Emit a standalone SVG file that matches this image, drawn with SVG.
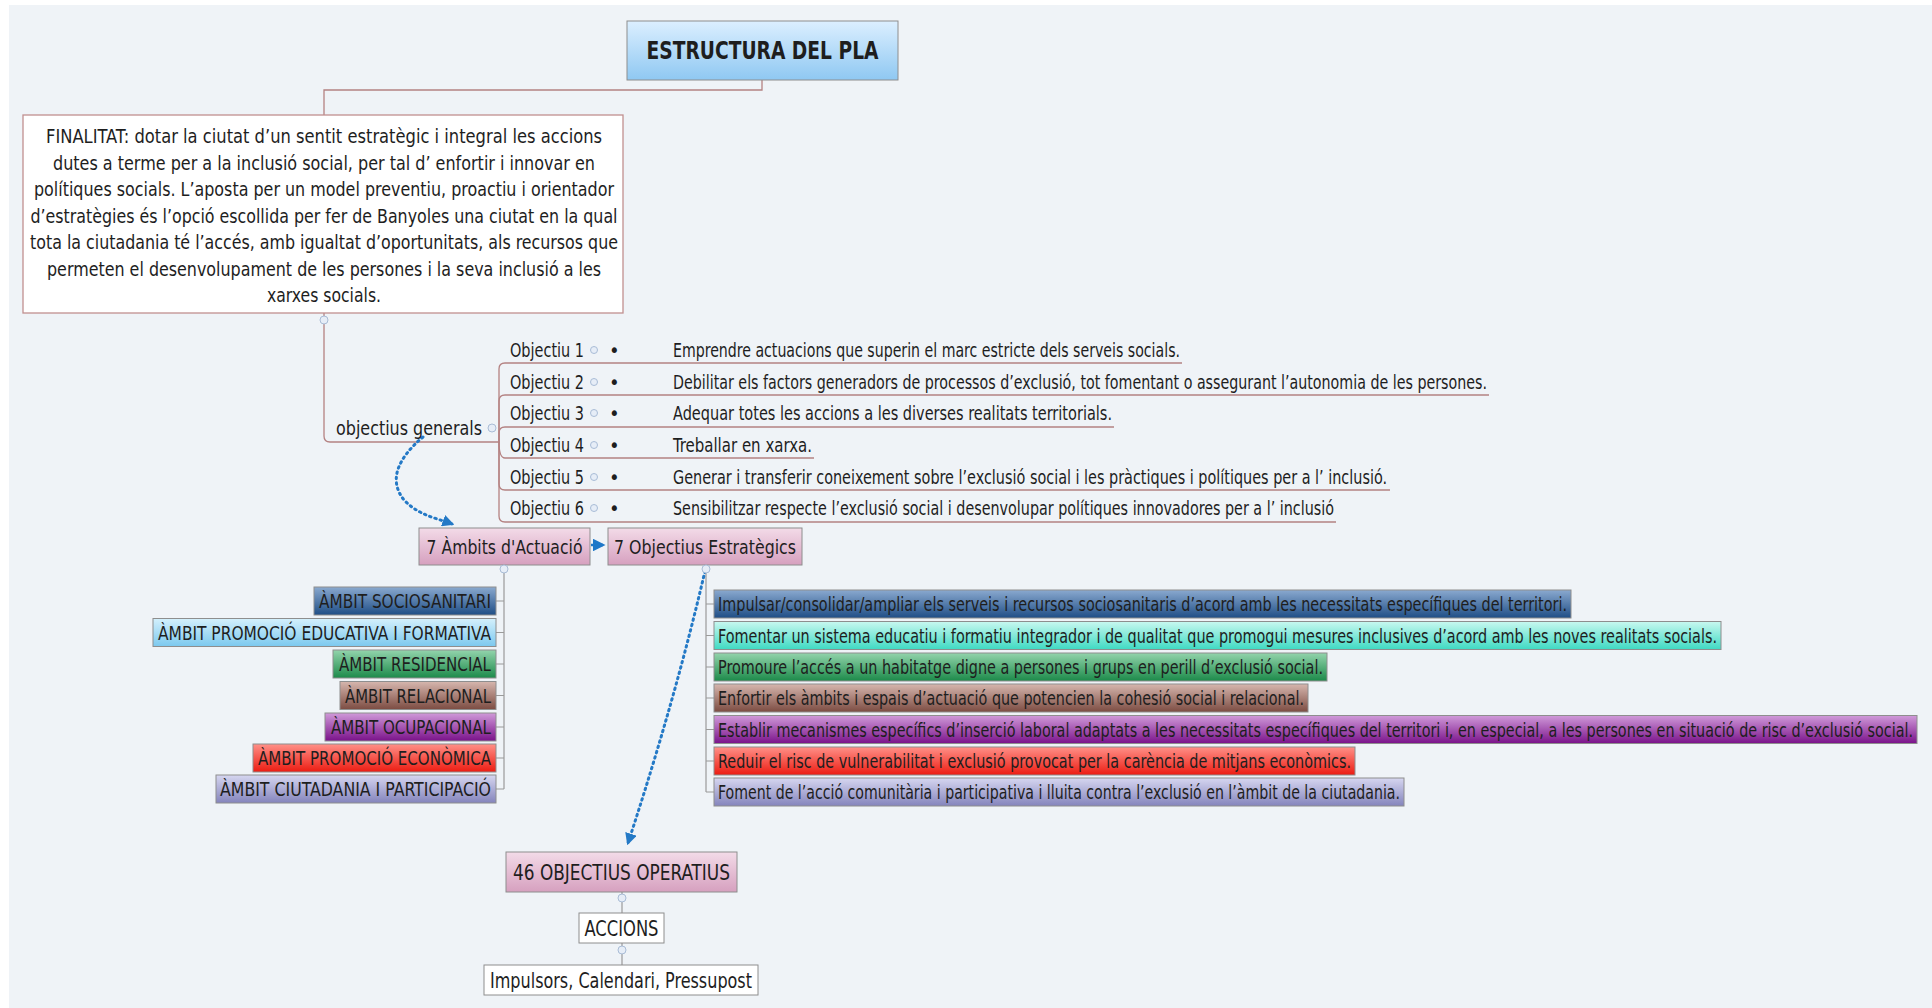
<svg xmlns="http://www.w3.org/2000/svg" width="1932" height="1008" viewBox="0 0 1932 1008">
<defs>
<style>
text{font-family:"Liberation Sans Narrow","DejaVu Sans Condensed","Liberation Sans",sans-serif;fill:#1e1e1e;}
.t18{font-size:20px;}
.t19{font-size:20px;}
.t20{font-size:21px;}
.box{stroke:#8e8e8e;stroke-width:1;}
.ln{fill:none;stroke:#b48282;stroke-width:1.3;}
.gl{fill:none;stroke:#9a9a9a;stroke-width:1.2;}
.dot{fill:none;stroke:#2479c6;stroke-width:3;stroke-dasharray:1.5 4;stroke-linecap:round;}
.knob{fill:#e6edf7;stroke:#a9bcd6;stroke-width:1;}
</style>
<linearGradient id="gTitle" x1="0" y1="0" x2="0" y2="1"><stop offset="0" stop-color="#dcefff"/><stop offset="1" stop-color="#8fc8f2"/></linearGradient>
<linearGradient id="gPink" x1="0" y1="0" x2="0" y2="1"><stop offset="0" stop-color="#f3dbe8"/><stop offset="1" stop-color="#d6a0bf"/></linearGradient>
<linearGradient id="gBlue" x1="0" y1="0" x2="0" y2="1"><stop offset="0" stop-color="#8aa9cf"/><stop offset="1" stop-color="#1f4e86"/></linearGradient>
<linearGradient id="gSky" x1="0" y1="0" x2="0" y2="1"><stop offset="0" stop-color="#d4f0fc"/><stop offset="1" stop-color="#7cc9ef"/></linearGradient>
<linearGradient id="gTurq" x1="0" y1="0" x2="0" y2="1"><stop offset="0" stop-color="#c8f8f0"/><stop offset="1" stop-color="#3fdac3"/></linearGradient>
<linearGradient id="gGreen" x1="0" y1="0" x2="0" y2="1"><stop offset="0" stop-color="#93d4ac"/><stop offset="1" stop-color="#1c8a4a"/></linearGradient>
<linearGradient id="gBrown" x1="0" y1="0" x2="0" y2="1"><stop offset="0" stop-color="#d6b6ae"/><stop offset="1" stop-color="#7c4c42"/></linearGradient>
<linearGradient id="gPurple" x1="0" y1="0" x2="0" y2="1"><stop offset="0" stop-color="#d09ad9"/><stop offset="1" stop-color="#7a128a"/></linearGradient>
<linearGradient id="gRed" x1="0" y1="0" x2="0" y2="1"><stop offset="0" stop-color="#ff9088"/><stop offset="1" stop-color="#ec1c12"/></linearGradient>
<linearGradient id="gLav" x1="0" y1="0" x2="0" y2="1"><stop offset="0" stop-color="#d6d6f0"/><stop offset="1" stop-color="#8484bc"/></linearGradient>
<marker id="arr" viewBox="0 0 10 10" refX="8" refY="5" markerWidth="4" markerHeight="4" orient="auto" markerUnits="strokeWidth"><path d="M0,0 L10,5 L0,10 z" fill="#2479c6"/></marker>
<marker id="arr2" viewBox="0 0 10 10" refX="8" refY="5" markerWidth="5" markerHeight="5" orient="auto" markerUnits="strokeWidth"><path d="M0,0 L10,5 L0,10 z" fill="#1e78c8"/></marker>
</defs>
<rect x="0" y="0" width="1932" height="1008" fill="#ffffff"/>
<rect x="9" y="5" width="1923" height="1003" fill="#eff3f7"/>

<g id="connectors">
<path class="ln" d="M762 80 V90 H324 V115"/>
<path class="ln" d="M324 313 V436 Q324 442 330 442 H497"/>
<path class="ln" d="M497 442 H499 V369 Q499 363 505 363 H1182"/>
<path class="ln" d="M499 442 V401 Q499 395 505 395 H1489"/>
<path class="ln" d="M499 442 V433 Q499 427 505 427 H1114"/>
<path class="ln" d="M499 442 Q499 458 505 458 H814"/>
<path class="ln" d="M499 442 V484 Q499 490 505 490 H1390"/>
<path class="ln" d="M499 442 V516 Q499 522 505 522 H1336"/>
<path class="dot" d="M423 437 C398 458 388 480 404 500 C418 515 436 518 452 524" marker-end="url(#arr)"/>
<path fill="none" stroke="#1e78c8" stroke-width="2.5" d="M591 545 H603" marker-end="url(#arr2)"/>
<path class="gl" d="M504 573 V789 M496 601 H504 M496 632.5 H504 M496 664 H504 M496 695.5 H504 M496 727 H504 M496 758 H504 M496 789 H504"/>
<path class="gl" d="M706 573 V792 M706 604 H714 M706 635.5 H714 M706 667 H714 M706 698 H714 M706 729.5 H714 M706 761 H714 M706 792 H714"/>
<path class="dot" d="M705 571 Q675 700 628 843" marker-end="url(#arr)"/>
<path class="gl" d="M622 892 V913 M622 943 V965"/>
</g>

<g id="title">
<rect class="box" x="627" y="21" width="271" height="59" fill="url(#gTitle)" stroke="#7a9cbf"/>
<text x="762.5" y="59" text-anchor="middle" font-size="25" font-weight="bold" fill="#333a44" textLength="232" lengthAdjust="spacingAndGlyphs">ESTRUCTURA DEL PLA</text>
</g>

<g id="finalitat">
<rect x="23" y="115" width="600" height="198" fill="#ffffff" stroke="#c09090" stroke-width="1.3"/>
<g class="t19" text-anchor="middle">
<text x="324" y="143" textLength="556" lengthAdjust="spacingAndGlyphs">FINALITAT: dotar la ciutat d’un sentit estratègic i integral les accions</text>
<text x="324" y="169.5" textLength="542" lengthAdjust="spacingAndGlyphs">dutes a terme per a la inclusió social, per tal d’ enfortir i innovar en</text>
<text x="324" y="196" textLength="580" lengthAdjust="spacingAndGlyphs">polítiques socials. L’aposta per un model preventiu, proactiu i orientador</text>
<text x="324" y="222.5" textLength="587" lengthAdjust="spacingAndGlyphs">d’estratègies és l’opció escollida per fer de Banyoles una ciutat en la qual</text>
<text x="324" y="249" textLength="588" lengthAdjust="spacingAndGlyphs">tota la ciutadania té l’accés, amb igualtat d’oportunitats, als recursos que</text>
<text x="324" y="275.5" textLength="554" lengthAdjust="spacingAndGlyphs">permeten el desenvolupament de les persones i la seva inclusió a les</text>
<text x="324" y="302" textLength="114" lengthAdjust="spacingAndGlyphs">xarxes socials.</text>
</g>
<circle class="knob" cx="324" cy="320" r="4"/>
</g>

<g id="objectius-generals">
<text class="t19" x="336" y="435" textLength="146" lengthAdjust="spacingAndGlyphs">objectius generals</text>
<circle class="knob" cx="492" cy="428" r="4"/>
</g>

<g id="objectius" class="t18">
<g id="obj1"><text x="510" y="357" textLength="74" lengthAdjust="spacingAndGlyphs">Objectiu 1</text><circle class="knob" cx="594" cy="350" r="3.5"/><text x="609" y="357">•</text><text x="673" y="357" textLength="507" lengthAdjust="spacingAndGlyphs">Emprendre actuacions que superin el marc estricte dels serveis socials.</text></g>
<g id="obj2"><text x="510" y="389" textLength="74" lengthAdjust="spacingAndGlyphs">Objectiu 2</text><circle class="knob" cx="594" cy="382" r="3.5"/><text x="609" y="389">•</text><text x="673" y="389" textLength="814" lengthAdjust="spacingAndGlyphs">Debilitar els factors generadors de processos d’exclusió, tot fomentant o assegurant l’autonomia de les persones.</text></g>
<g id="obj3"><text x="510" y="420" textLength="74" lengthAdjust="spacingAndGlyphs">Objectiu 3</text><circle class="knob" cx="594" cy="413" r="3.5"/><text x="609" y="420">•</text><text x="673" y="420" textLength="439" lengthAdjust="spacingAndGlyphs">Adequar totes les accions a les diverses realitats territorials.</text></g>
<g id="obj4"><text x="510" y="452" textLength="74" lengthAdjust="spacingAndGlyphs">Objectiu 4</text><circle class="knob" cx="594" cy="445" r="3.5"/><text x="609" y="452">•</text><text x="673" y="452" textLength="139" lengthAdjust="spacingAndGlyphs">Treballar en xarxa.</text></g>
<g id="obj5"><text x="510" y="484" textLength="74" lengthAdjust="spacingAndGlyphs">Objectiu 5</text><circle class="knob" cx="594" cy="477" r="3.5"/><text x="609" y="484">•</text><text x="673" y="484" textLength="714" lengthAdjust="spacingAndGlyphs">Generar i transferir coneixement sobre l’exclusió social i les pràctiques i polítiques per a l’ inclusió.</text></g>
<g id="obj6"><text x="510" y="515" textLength="74" lengthAdjust="spacingAndGlyphs">Objectiu 6</text><circle class="knob" cx="594" cy="508" r="3.5"/><text x="609" y="515">•</text><text x="673" y="515" textLength="661" lengthAdjust="spacingAndGlyphs">Sensibilitzar respecte l’exclusió social i desenvolupar polítiques innovadores per a l’ inclusió</text></g>
</g>

<g id="ambits-actuacio">
<rect class="box" x="419" y="528" width="171" height="37" fill="url(#gPink)"/>
<text class="t19" x="504.5" y="554" text-anchor="middle" textLength="156" lengthAdjust="spacingAndGlyphs" fill="#3a2a33">7 Àmbits d'Actuació</text>
<circle class="knob" cx="504" cy="569" r="4"/>
</g>

<g id="objectius-estrategics">
<rect class="box" x="608" y="528" width="194" height="37" fill="url(#gPink)"/>
<text class="t19" x="705" y="554" text-anchor="middle" textLength="182" lengthAdjust="spacingAndGlyphs" fill="#3a2a33">7 Objectius Estratègics</text>
<circle class="knob" cx="706" cy="569" r="4"/>
</g>

<g id="ambits" class="t18" text-anchor="end">
<g id="a1"><rect class="box" x="314" y="587" width="182" height="28" fill="url(#gBlue)"/><text x="491" y="608" textLength="172" lengthAdjust="spacingAndGlyphs" fill="#141a2a">ÀMBIT SOCIOSANITARI</text></g>
<g id="a2"><rect class="box" x="153" y="618.5" width="343" height="28" fill="url(#gSky)"/><text x="491" y="639.5" textLength="333" lengthAdjust="spacingAndGlyphs">ÀMBIT PROMOCIÓ EDUCATIVA I FORMATIVA</text></g>
<g id="a3"><rect class="box" x="333" y="650" width="163" height="28" fill="url(#gGreen)"/><text x="491" y="671" textLength="152" lengthAdjust="spacingAndGlyphs" fill="#0e1e14">ÀMBIT RESIDENCIAL</text></g>
<g id="a4"><rect class="box" x="340" y="681.5" width="156" height="28" fill="url(#gBrown)"/><text x="491" y="702.5" textLength="146" lengthAdjust="spacingAndGlyphs" fill="#1e1414">ÀMBIT RELACIONAL</text></g>
<g id="a5"><rect class="box" x="325" y="713" width="171" height="28" fill="url(#gPurple)"/><text x="491" y="734" textLength="160" lengthAdjust="spacingAndGlyphs" fill="#1e0e22">ÀMBIT OCUPACIONAL</text></g>
<g id="a6"><rect class="box" x="253" y="744" width="243" height="28" fill="url(#gRed)"/><text x="491" y="765" textLength="233" lengthAdjust="spacingAndGlyphs" fill="#2a0a0a">ÀMBIT PROMOCIÓ ECONÒMICA</text></g>
<g id="a7"><rect class="box" x="216" y="775" width="280" height="28" fill="url(#gLav)"/><text x="491" y="796" textLength="271" lengthAdjust="spacingAndGlyphs">ÀMBIT CIUTADANIA I PARTICIPACIÓ</text></g>
</g>

<g id="estrategics" class="t18">
<g id="e1"><rect class="box" x="714" y="590" width="857" height="28" fill="url(#gBlue)"/><text x="718" y="611" textLength="849" lengthAdjust="spacingAndGlyphs" fill="#141a2a">Impulsar/consolidar/ampliar els serveis i recursos sociosanitaris d’acord amb les necessitats específiques del territori.</text></g>
<g id="e2"><rect class="box" x="714" y="621.5" width="1007" height="28" fill="url(#gTurq)"/><text x="718" y="642.5" textLength="999" lengthAdjust="spacingAndGlyphs">Fomentar un sistema educatiu i formatiu integrador i de qualitat que promogui mesures inclusives d’acord amb les noves realitats socials.</text></g>
<g id="e3"><rect class="box" x="714" y="653" width="613" height="28" fill="url(#gGreen)"/><text x="718" y="674" textLength="605" lengthAdjust="spacingAndGlyphs" fill="#0e1e14">Promoure l’accés a un habitatge digne a persones i grups en perill d’exclusió social.</text></g>
<g id="e4"><rect class="box" x="714" y="684" width="594" height="28" fill="url(#gBrown)"/><text x="718" y="705" textLength="586" lengthAdjust="spacingAndGlyphs" fill="#1e1414">Enfortir els àmbits i espais d’actuació que potencien la cohesió social i relacional.</text></g>
<g id="e5"><rect class="box" x="714" y="715.5" width="1203" height="28" fill="url(#gPurple)"/><text x="718" y="736.5" textLength="1195" lengthAdjust="spacingAndGlyphs" fill="#1e0e22">Establir mecanismes específics d’inserció laboral adaptats a les necessitats específiques del territori i, en especial, a les persones en situació de risc d’exclusió social.</text></g>
<g id="e6"><rect class="box" x="714" y="747" width="641" height="28" fill="url(#gRed)"/><text x="718" y="768" textLength="633" lengthAdjust="spacingAndGlyphs" fill="#2a0a0a">Reduir el risc de vulnerabilitat i exclusió provocat per la carència de mitjans econòmics.</text></g>
<g id="e7"><rect class="box" x="714" y="778" width="690" height="28" fill="url(#gLav)"/><text x="718" y="799" textLength="682" lengthAdjust="spacingAndGlyphs">Foment de l’acció comunitària i participativa i lluita contra l’exclusió en l’àmbit de la ciutadania.</text></g>
</g>

<g id="operatius">
<rect class="box" x="506" y="852" width="231" height="40" fill="url(#gPink)"/>
<text class="t20" x="621.5" y="880" text-anchor="middle" textLength="217" lengthAdjust="spacingAndGlyphs" fill="#3a2a33">46 OBJECTIUS OPERATIUS</text>
<circle class="knob" cx="622" cy="898" r="4"/>
</g>

<g id="accions">
<rect class="box" x="579" y="913" width="85" height="30" fill="#ffffff"/>
<text class="t20" x="621.5" y="936" text-anchor="middle" textLength="74" lengthAdjust="spacingAndGlyphs">ACCIONS</text>
<circle class="knob" cx="622" cy="950" r="4"/>
</g>

<g id="impulsors">
<rect class="box" x="484" y="965" width="274" height="30" fill="#ffffff"/>
<text class="t20" x="621" y="988" text-anchor="middle" textLength="262" lengthAdjust="spacingAndGlyphs">Impulsors, Calendari, Pressupost</text>
</g>
</svg>
